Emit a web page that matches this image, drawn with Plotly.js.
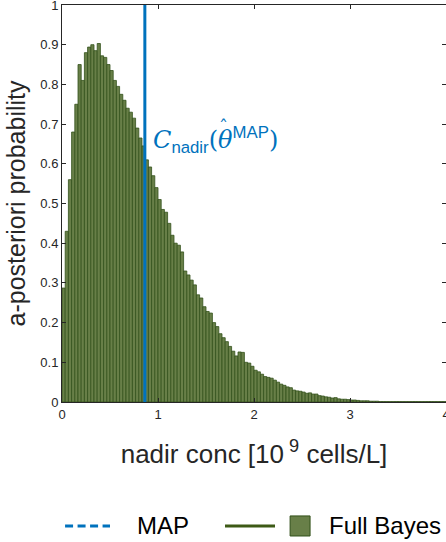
<!DOCTYPE html>
<html>
<head>
<meta charset="utf-8">
<script src="https://cdn.plot.ly/plotly-3.0.1.min.js"></script>
<style>
html,body{margin:0;padding:0;background:#fff;overflow:hidden;}
#chart{width:446px;height:542px;}
</style>
</head>
<body>
<div id="chart"></div>
<script>
// Histogram of a-posteriori probability of nadir concentration (bin width 1/30)
var binWidth = 1/30;
var probValues = [
  0.287, 0.43, 0.56, 0.68, 0.75, 0.85, 0.81, 0.88, 0.894, 0.90,
  0.885, 0.903, 0.872, 0.868, 0.85, 0.835, 0.81, 0.795, 0.775, 0.76,
  0.74, 0.73, 0.715, 0.69, 0.665, 0.645, 0.61, 0.592, 0.57, 0.54,
  0.51, 0.485, 0.478, 0.45, 0.42, 0.40, 0.395, 0.378, 0.33, 0.32,
  0.307, 0.295, 0.27, 0.262, 0.24, 0.228, 0.224, 0.20, 0.19, 0.172,
  0.162, 0.152, 0.14, 0.128, 0.116, 0.126, 0.125, 0.10, 0.098, 0.09,
  0.08, 0.076, 0.07, 0.064, 0.062, 0.06, 0.055, 0.05, 0.045, 0.042,
  0.038, 0.036, 0.030, 0.028, 0.027, 0.025, 0.022, 0.023, 0.020, 0.020,
  0.016, 0.015, 0.013, 0.012, 0.010, 0.011, 0.008, 0.007, 0.007, 0.006,
  0.005, 0.005, 0.004, 0.003, 0.003, 0.003, 0.002, 0.002, 0.002, 0.001,
  0.001, 0.001, 0.001, 0.001, 0.001, 0.001, 0.001, 0.001, 0.001, 0.001,
  0.001, 0.001, 0.001, 0.001, 0.001, 0.001, 0.001, 0.001, 0.001, 0.001
];
var mapValue = 0.863;          // C_nadir(theta_MAP)
var mapLineY = [0, 1];
var xTicks = [0, 1, 2, 3, 4];
var yTicks = [0, 0.1, 0.2, 0.3, 0.4, 0.5, 0.6, 0.7, 0.8, 0.9, 1];
var legendLabels = ['MAP', 'Full Bayes'];

var blue = '#0072BD';
var barFill = '#687f48';
var barEdge = '#32501a';
var lineGreen = '#3d5a16';
var axisCol = '#262626';
var sans = 'Liberation Sans, Arial, sans-serif';
var serif = "'DejaVu Serif'";

var traces = [
  {
    type: 'bar', y: probValues, x0: binWidth/2, dx: binWidth, name: legendLabels[1],
    marker: {color: barFill, line: {color: barEdge, width: 0.8}}, showlegend: false
  },
  {
    type: 'scatter', mode: 'lines', x: [mapValue, mapValue], y: mapLineY, name: legendLabels[0],
    line: {color: blue, width: 3}, showlegend: false, hoverinfo: 'skip'
  }
];

// legend key (paper coordinates, below the plot)
var legY = -0.3123;
var shapes = [
  {type: 'line', xref: 'paper', yref: 'paper', x0: 0.008, x1: 0.125, y0: legY, y1: legY,
   line: {color: blue, width: 3, dash: '8px,4.5px'}},
  {type: 'line', xref: 'paper', yref: 'paper', x0: 0.4245, x1: 0.5547, y0: legY, y1: legY,
   line: {color: lineGreen, width: 3}},
  {type: 'rect', xref: 'paper', yref: 'paper', x0: 0.594, x1: 0.646, y0: -0.3375, y1: -0.287,
   fillcolor: barFill, line: {color: barEdge, width: 1}}
];

var layout = {
  width: 446, height: 542,
  margin: {l: 62, r: 0, t: 5, b: 140},
  paper_bgcolor: '#fff', plot_bgcolor: '#fff',
  bargap: 0,
  font: {family: sans, color: axisCol},
  xaxis: {
    range: [0, 4], tickvals: xTicks, ticktext: xTicks.map(String),
    ticks: 'inside', ticklen: 4, tickcolor: axisCol, ticklabeloverflow: 'allow',
    showline: true, linecolor: axisCol, linewidth: 1, mirror: 'ticks',
    showgrid: false, zeroline: false,
    tickfont: {size: 13, color: axisCol},
    title: {text: 'nadir conc [10<sup> 9</sup> cells/L]', font: {size: 26, color: axisCol}, standoff: 24}
  },
  yaxis: {
    range: [0, 1], tickvals: yTicks, ticktext: yTicks.map(String),
    ticks: 'inside', ticklen: 4, tickcolor: axisCol, ticklabeloverflow: 'allow',
    showline: true, linecolor: axisCol, linewidth: 1, mirror: 'ticks',
    showgrid: false, zeroline: false,
    tickfont: {size: 13, color: axisCol},
    title: {text: 'a-posteriori probability', font: {size: 25, color: axisCol}, standoff: 7}
  },
  showlegend: false,
  shapes: shapes,
  annotations: [
    {
      x: mapValue, y: 0.66, xref: 'x', yref: 'y', xanchor: 'left', yanchor: 'middle',
      xshift: 6, showarrow: false,
      text: '<span style="font-family:' + serif + '"><i>C</i></span><sub>nadir</sub><span style="font-family:' + serif + '">(<i>\u03B8</i></span><sup>MAP</sup><span style="font-family:' + serif + '">)</span>',
      font: {size: 24, color: blue, family: sans}
    },
    {
      // hat accent over theta
      x: mapValue, y: 0.66, xref: 'x', yref: 'y', xanchor: 'center', yanchor: 'middle',
      xshift: 79, yshift: 12, showarrow: false,
      text: '<span style="font-family:' + serif + '">\u02C6</span>',
      font: {size: 18, color: blue, family: sans}
    },
    {x: 0.190, y: legY, xref: 'paper', yref: 'paper', xanchor: 'left', yanchor: 'middle',
     showarrow: false, text: legendLabels[0], font: {size: 24, color: '#000', family: sans}},
    {x: 0.690, y: legY, xref: 'paper', yref: 'paper', xanchor: 'left', yanchor: 'middle',
     showarrow: false, text: legendLabels[1], font: {size: 24, color: '#000', family: sans}}
  ]
};

Plotly.newPlot('chart', traces, layout, {displayModeBar: false, staticPlot: true});
</script>
</body>
</html>
